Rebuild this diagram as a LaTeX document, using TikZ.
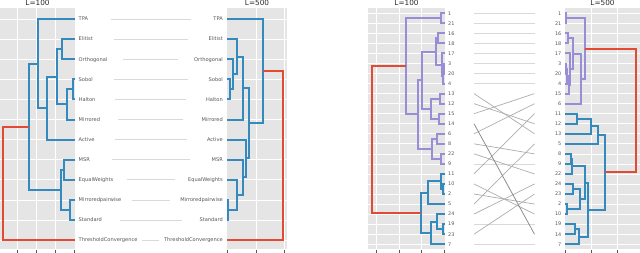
\documentclass[tikz,border=0pt]{standalone}
\usepackage{fontspec}
\setmainfont{DejaVu Sans}
\usetikzlibrary{calc}
\definecolor{ggblue}{HTML}{348ABD}
\definecolor{ggpurple}{HTML}{988ED5}
\definecolor{ggred}{HTML}{E24A33}
\definecolor{panelbg}{HTML}{E5E5E5}
\definecolor{labgray}{HTML}{555555}

\begin{document}
\begin{tikzpicture}[x=1pt, y=-1pt, lab/.style={inner sep=0pt, text height=3.7pt, text depth=0pt, font=\fontsize{5.1}{6}\selectfont, text=labgray}, num/.style={lab, font=\fontsize{4.9}{6}\selectfont}, ttl/.style={inner sep=0pt, anchor=base, font=\fontsize{7.3}{8}\selectfont, text=black!85}, grid/.style={white, line width=0.7pt}, tick/.style={labgray, line width=0.6pt}, tie/.style={gray!30, line width=0.8pt}, cross/.style={gray!65, line width=0.7pt}, crossdark/.style={gray!90, line width=0.8pt}, blu/.style={draw=ggblue, line width=2pt}, pur/.style={draw=ggpurple, line width=2pt}, cut/.style={draw=ggred, line width=2pt}]
\useasboundingbox (0,0) rectangle (640,252);

\fill[panelbg] (-2,8.3) rectangle (75,249);
\fill[panelbg] (227,8.3) rectangle (287,249);
\fill[panelbg] (368,8.3) rectangle (445,249);
\fill[panelbg] (565,8.3) rectangle (642,249);
\foreach \k in {0,...,11} {
  \draw[grid] (-2,{19+20.1*\k}) -- (75,{19+20.1*\k});
  \draw[grid] (227,{19+20.1*\k}) -- (287,{19+20.1*\k});
}
\foreach \i in {0,...,23} {
  \draw[grid] (368,{13.3+10.04*\i}) -- (445,{13.3+10.04*\i});
  \draw[grid] (565,{13.3+10.04*\i}) -- (642,{13.3+10.04*\i});
}
\foreach \x in {17.5,36.5,55.5,256,284.5,376.7,399.2,421.7,591.7,617.7}
  \draw[grid] (\x,8.3) -- (\x,249);
\foreach \x in {17.5,36.5,55.5,74.5,227.5,256,284.5,376.7,399.2,421.7,444.2,565.7,591.7,617.7}
  \draw[tick] (\x,249.5) -- (\x,252.5);

\node[ttl] (ttlA) at (37.5,5.5) {L=100};
\node[ttl] (ttlB) at (257,5.5) {L=500};
\node[ttl] (ttlC) at (406.5,5.5) {L=100};
\node[ttl] (ttlD) at (602.5,5.5) {L=500};

\begin{scope}[yshift=-19pt, y=-20.1pt]
\foreach \xa/\ya/\hh/\xb/\yb in {75/1/62.3/75/2, 75/3/72.7/75/4, 72.7/3.5/66.7/75/5, 62.3/1.5/57.3/66.7/4.25, 57.3/2.875/47.3/75/6, 75/0/38.3/47.3/4.4375, 75/7/64.3/75/8, 75/9/70.3/75/10, 64.3/7.5/61/70.3/9.5, 38.3/2.21875/29.3/61/8.5, 227/3/230/227/4, 227/2/233.3/230/3.5, 227/1/237.3/233.3/2.75, 237.3/1.875/242.7/227/5, 227/9/228.3/227/10, 227/8/237.3/228.3/9.5, 227/7/242.7/237.3/8.75, 227/6/245.7/242.7/7.875, 242.7/3.4375/249.3/245.7/6.9375, 227/0/263.3/249.3/5.1875}
  \path[blu] (\xa,\ya) -| (\hh,\yb) -- (\xb,\yb);
\path[cut] (29.3,5.359375) -| (3.3,11) -- (75,11);
\path[cut] (263.3,2.59375) -| (283.3,11) -- (227,11);
\end{scope}

\begin{scope}[yshift=-13.3pt, y=-10.04pt]
\foreach \xa/\ya/\hh/\xb/\yb in {445/0/441/445/1, 445/2/438.3/445/3, 445/5/444/445/6, 444/5.5/443/445/7, 445/4/441.7/443/6.25, 438.3/2.5/435.7/441.7/5.125, 445/8/440/445/9, 445/10/439/445/11, 440/8.5/430.7/439/10.5, 435.7/3.8125/422.3/430.7/9.5, 445/12/436.7/445/13, 445/14/440.7/445/15, 436.7/12.5/431.7/440.7/14.5, 422.3/6.65625/418.3/431.7/13.5, 441/0.5/405.7/418.3/10.078125, 565/0/566/565/1, 565/2/568.3/565/3, 565/5/566.3/565/6, 566.3/5.5/567.3/565/7, 567.3/6.25/569.3/565/8, 565/4/570.3/569.3/7.125, 568.3/2.5/573.3/570.3/5.5625, 573.3/4.03125/580.7/565/9, 566/0.5/585/580.7/6.515625}
  \path[pur] (\xa,\ya) -| (\hh,\yb) -- (\xb,\yb);
\foreach \xa/\ya/\hh/\xb/\yb in {445/17/442.7/445/18, 445/16/441/442.7/17.5, 441/16.75/427.7/445/19, 445/21/442.7/445/22, 445/20/437.3/442.7/21.5, 437.3/20.75/431/445/23, 427.7/17.875/421/431/21.875, 565/10/576.7/565/11, 576.7/10.5/590.7/565/12, 590.7/11.25/598.3/565/13, 565/14/570.7/565/15, 570.7/14.5/571.7/565/16, 565/17/573.3/565/18, 565/19/566.7/565/20, 573.3/17.5/580/566.7/19.5, 571.7/15.25/585/580/18.5, 565/21/575.3/565/22, 575.3/21.5/579.3/565/23, 585/16.875/588.3/579.3/22.25, 598.3/12.125/605/588.3/19.5625}
  \path[blu] (\xa,\ya) -| (\hh,\yb) -- (\xb,\yb);
\path[cut] (405.7,5.2890625) -| (372.3,19.875) -- (421,19.875);
\path[cut] (585,3.5078125) -| (636,15.84375) -- (605,15.84375);
\end{scope}

\foreach \n [count=\k from 0] in {TPA,Elitist,Orthogonal,Sobol,Halton,Mirrored,Active,MSR,EqualWeights,Mirroredpairwise,Standard,ThresholdConvergence} {
  \node[lab, anchor=west] (a\n) at (78.5,{19+20.1*\k}) {\n};
  \node[lab, anchor=east] (b\n) at (223,{19+20.1*\k}) {\n};
  \draw[tie] ($(a\n.east)!0.18!(b\n.west)$) -- ($(a\n.east)!0.82!(b\n.west)$);
}

\foreach \n [count=\i from 0] in {1,21,16,18,17,3,20,4,13,12,15,14,6,8,22,9,11,10,2,5,24,19,23,7}
  \node[num, anchor=west] (c\n) at (448,{13.3+10.04*\i}) {\n};
\foreach \n [count=\i from 0] in {1,21,16,18,17,3,20,4,15,6,11,12,13,5,8,9,22,24,23,2,10,19,14,7}
  \node[num, anchor=east] (d\n) at (561.5,{13.3+10.04*\i}) {\n};
\coordinate (tieL) at (474,0);
\coordinate (tieR) at (534.5,0);
\foreach \n in {1,21,16,18,17,3,20,4,9,19,7}
  \draw[tie] (c\n.east -| tieL) -- (d\n.west -| tieR);
\foreach \n in {13,12,15,6,8,22,11,10,2,5,24,23}
  \draw[cross] (c\n.east -| tieL) -- (d\n.west -| tieR);
\draw[crossdark] (c14.east -| tieL) -- (d14.west -| tieR);
\end{tikzpicture}
\end{document}
